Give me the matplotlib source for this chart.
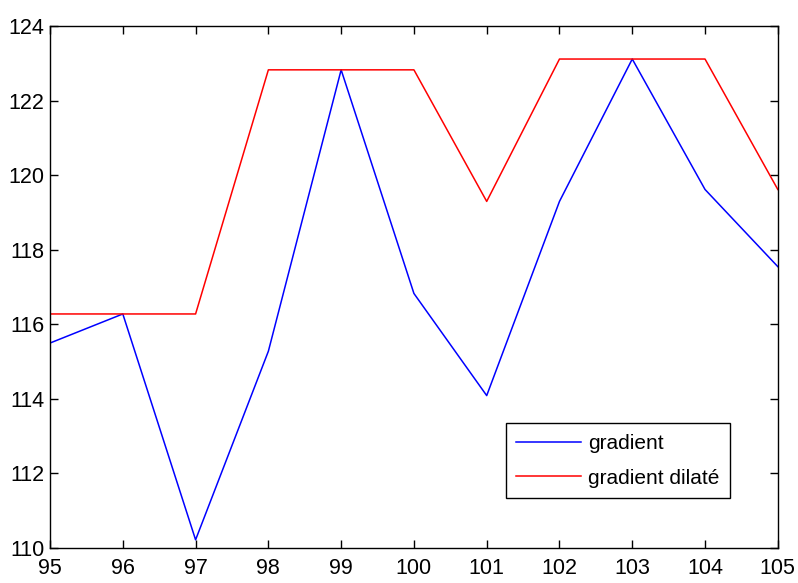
import numpy as np
import matplotlib.pyplot as plt

plt.rcParams['font.family'] = ['Liberation Sans', 'DejaVu Sans']

# abscisses
x = np.arange(95, 106)

# gradient et gradient dilaté
gradient = [115.5, 116.28, 110.22, 115.28, 122.83, 116.83, 114.09, 119.3, 123.12, 119.62, 117.55]
gradient_dilate = [116.28, 116.28, 116.28, 122.83, 122.83, 122.83, 119.3, 123.12, 123.12, 123.12, 119.62]

fig = plt.figure(figsize=(7.98, 5.83), dpi=100)
ax = fig.add_axes([0.0627, 0.060, 0.912, 0.895])

ax.plot(x, gradient, color='blue', linewidth=1.1, label='gradient')
ax.plot(x, gradient_dilate, color='red', linewidth=1.1, label='gradient dilaté')

ax.set_xlim(95, 105)
ax.set_ylim(110, 124)
ax.set_xticks(np.arange(95, 106, 1))
ax.set_yticks(np.arange(110, 125, 2))
ax.tick_params(direction='in', top=True, right=True, length=6, width=1,
               labelsize=15.5)
ax.tick_params(axis='x', pad=7)
ax.tick_params(axis='y', pad=4)
for s in ax.spines.values():
    s.set_linewidth(1.0)

leg = ax.legend(loc='lower right', bbox_to_anchor=(0.934, 0.096), fontsize=15,
                fancybox=False, edgecolor='black', framealpha=1,
                handlelength=3.1, handletextpad=0.35, borderpad=0.5,
                labelspacing=0.75, borderaxespad=0)
leg.get_frame().set_linewidth(1.0)

fig.savefig('out.png', dpi=100)
